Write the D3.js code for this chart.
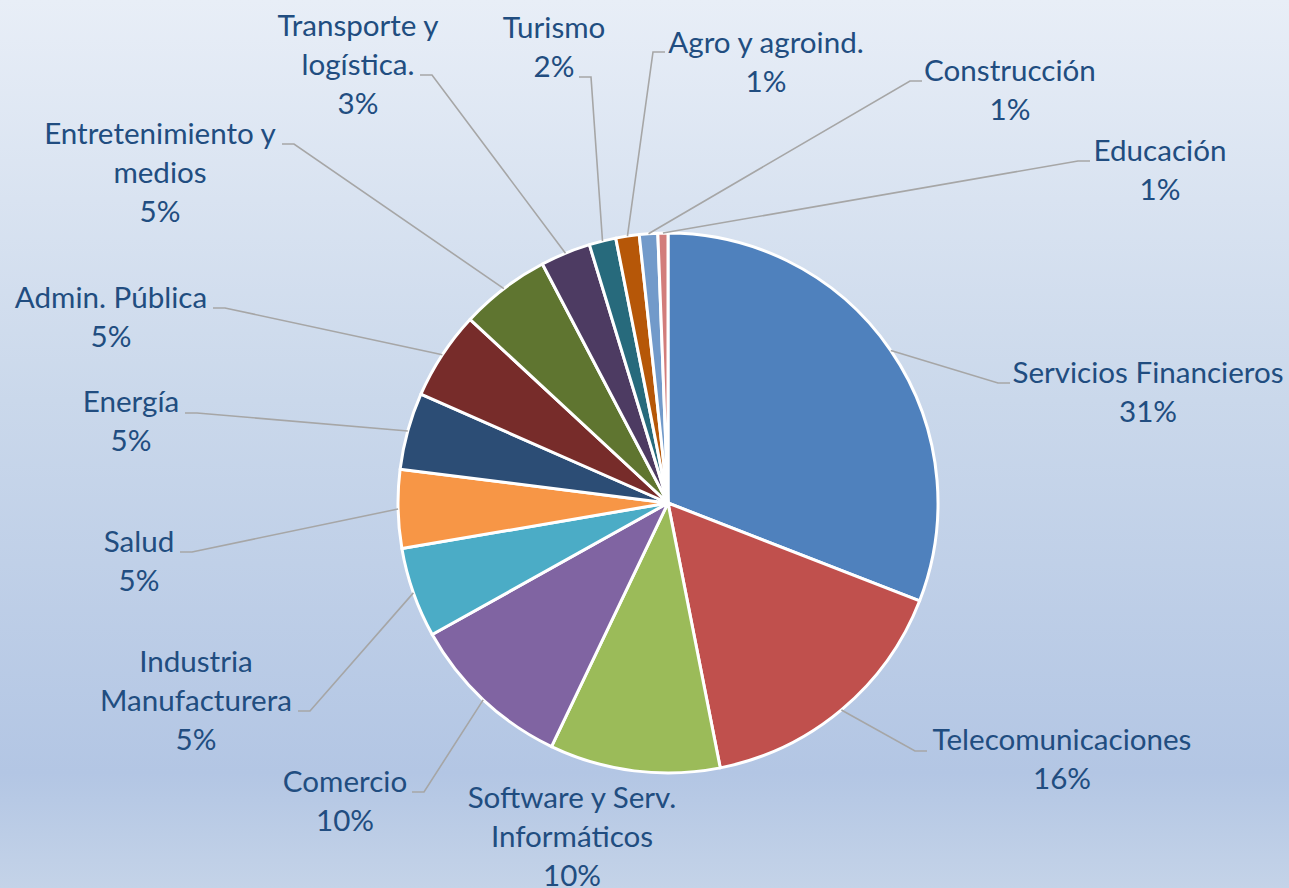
<!DOCTYPE html>
<html>
<head>
<meta charset="utf-8">
<script src="https://cdn.jsdelivr.net/npm/d3@7"></script>
<style>
  html, body { margin: 0; padding: 0; overflow: hidden; }
  svg { display: block; }
</style>
</head>
<body>
<svg id="chart" width="1289" height="888"></svg>
<script>
// ---- data ----
const categories = [
  "Servicios Financieros",
  "Telecomunicaciones",
  "Software y Serv.\nInformáticos",
  "Comercio",
  "Industria\nManufacturera",
  "Salud",
  "Energía",
  "Admin. Pública",
  "Entretenimiento y\nmedios",
  "Transporte y\nlogística.",
  "Turismo",
  "Agro y agroind.",
  "Construcción",
  "Educación"
];
const values = [30.9, 16.0, 10.2, 9.8, 5.4, 4.7, 4.6, 5.3, 5.4, 3.0, 1.6, 1.4, 1.1, 0.6];
const colors = ["#4F81BD", "#C0504D", "#9BBB59", "#8064A2", "#4BACC6", "#F79646",
                "#2C4D75", "#772C2A", "#5F7530", "#4D3B62", "#276A7C", "#B65708",
                "#729ACA", "#D27D7B"];

// ---- layout (label centre x, first baseline y, leader end x, leader end y) ----
const labelCx    = [1148, 1062, 572, 345, 196, 139, 131, 111, 160, 358, 554, 766, 1010, 1160];
const labelY     = [383, 750, 808, 792, 672, 552, 412, 308, 144, 36, 38, 53, 81, 161];
const leaderEndX = [1010, 927, null, 412, 298, 180, 185, 213, 282, 420, 579, 665, 922, 1090];
const leaderEndY = [383, 751, null, 792, 711, 552, 413, 308, 144, 75, 77, 52, 81, 161];

const W = 1289, H = 888;
const cx = 668, cy = 503, R = 270;
const lineH = 39;
const textColor = "#214D80";

const svg = d3.select("#chart");

// background gradient
const defs = svg.append("defs");
const grad = defs.append("linearGradient").attr("id", "bg")
  .attr("x1", 0).attr("y1", 0).attr("x2", 0).attr("y2", 1);
[[0, "#E8EEF7"], [0.45, "#CAD8EB"], [0.87, "#B3C6E4"], [1, "#C4D3E8"]]
  .forEach(([o, c]) => grad.append("stop").attr("offset", o).attr("stop-color", c));
svg.append("rect").attr("width", W).attr("height", H).attr("fill", "url(#bg)");

const total = d3.sum(values);
const data = categories.map((c, i) => ({ name: c, value: values[i], i }));

const pie = d3.pie().value(d => d.value).sort(null);
const arcs = pie(data);
const arc = d3.arc().innerRadius(0).outerRadius(R);
const edgeArc = d3.arc().innerRadius(R).outerRadius(R);

const g = svg.append("g").attr("transform", `translate(${cx},${cy})`);

// leader lines (drawn below slices)
const leaders = svg.append("g");
arcs.forEach((a, i) => {
  if (leaderEndX[i] == null) return;
  const [px, py] = edgeArc.centroid(a);
  const sx = cx + px, sy = cy + py;
  const ex = leaderEndX[i], ey = leaderEndY[i];
  const elbowX = ex < sx ? ex + 12 : ex - 12;
  leaders.append("polyline")
    .attr("points", `${sx},${sy} ${elbowX},${ey} ${ex},${ey}`)
    .attr("fill", "none")
    .attr("stroke", "#A6A6A6")
    .attr("stroke-width", 1.6);
});

g.selectAll("path.slice")
  .data(arcs)
  .join("path")
  .attr("class", "slice")
  .attr("d", arc)
  .attr("fill", d => colors[d.data.i])
  .attr("stroke", "#FFFFFF")
  .attr("stroke-width", 3)
  .attr("stroke-linejoin", "round");

// labels
const labels = svg.append("g")
  .attr("font-family", "Lato, 'Open Sans', sans-serif")
  .attr("fill", textColor)
  .attr("text-anchor", "middle");

// fit font size so text width matches reference
let fontSize = 29;
const probe = labels.append("text").attr("font-size", 100).text("Telecomunicaciones");
const pw = probe.node().getComputedTextLength();
if (pw > 0) fontSize = 100 * 259 / pw;
probe.remove();

arcs.forEach((a, i) => {
  const lines = categories[i].split("\n");
  lines.push(Math.round(values[i] / total * 100) + "%");
  const t = labels.append("text").attr("font-size", fontSize);
  lines.forEach((ln, k) => {
    t.append("tspan").attr("x", labelCx[i]).attr("y", labelY[i] + k * lineH).text(ln);
  });
});
</script>
</body>
</html>
